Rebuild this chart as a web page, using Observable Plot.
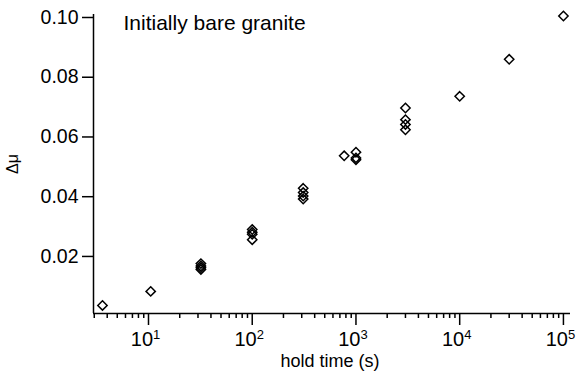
<!DOCTYPE html>
<html>
<head>
<meta charset="utf-8">
<script src="https://cdn.jsdelivr.net/npm/d3@7"></script>
<script src="https://cdn.jsdelivr.net/npm/@observablehq/plot@0.6"></script>
<style>
  html, body { margin: 0; padding: 0; background: #fff; }
  #chart svg { display: block; font-family: "Liberation Sans", Arial, Helvetica, sans-serif; }
</style>
</head>
<body>
<div id="chart"></div>
<script>
// Data: hold time (s) and Δμ
const holdTime = [3.6, 10.5,
  32, 32, 32, 32,
  100, 100, 100, 100,
  310, 310, 310, 310,
  770, 1000, 1000, 1000,
  3000, 3000, 3000, 3000,
  10000, 30000, 100000];
const deltaMu = [0.0036, 0.0083,
  0.0176, 0.0168, 0.0162, 0.0156,
  0.0290, 0.0281, 0.0274, 0.0256,
  0.0428, 0.0414, 0.0402, 0.0392,
  0.0537, 0.0549, 0.0530, 0.0524,
  0.0697, 0.0658, 0.0642, 0.0624,
  0.0736, 0.0860, 0.1005];

const yTicks = [0.02, 0.04, 0.06, 0.08, 0.10];
const xMajorTicks = [10, 100, 1000, 10000, 100000];
const xMajorExponents = ["1", "2", "3", "4", "5"];
const minorMultipliers = [2, 3, 4, 5, 6, 7, 8, 9];
const minorDecades = [1, 10, 100, 1000, 10000];
const titleText = "Initially bare granite";
const xLabel = "hold time (s)";
const yLabel = "Δμ";

const xDomain = [2.95, 117000];
const yDomain = [0.0009, 0.101];

const points = holdTime.map((t, i) => ({t, mu: deltaMu[i]}));
const xMinorTicks = minorDecades.flatMap(d => minorMultipliers.map(m => m * d))
  .filter(v => v >= xDomain[0] && v <= xDomain[1]);

const chart = Plot.plot({
  width: 581,
  height: 375,
  marginLeft: 93,
  marginRight: 11,
  marginTop: 14,
  marginBottom: 62,
  style: {fontFamily: "Liberation Sans, Arial, sans-serif", background: "#fff", color: "#000"},
  x: {type: "log", domain: xDomain},
  y: {domain: yDomain},
  marks: [
    Plot.axisY(yTicks, {tickSize: 11, tickPadding: 4, tickFormat: d => d.toFixed(2), fontSize: 19.5, strokeWidth: 1.5, label: null}),
    Plot.axisX(xMinorTicks, {tickSize: 5, tickFormat: () => "", strokeWidth: 1.5, label: null}),
    Plot.axisX(xMajorTicks, {tickSize: 12, tickPadding: 6, tickFormat: d => "10", fontSize: 20, strokeWidth: 1.5, label: null}),
    Plot.ruleX([xDomain[0]], {stroke: "#000", strokeWidth: 1.5}),
    Plot.ruleY([yDomain[0]], {stroke: "#000", strokeWidth: 1.5}),
    Plot.dot(points, {x: "t", y: "mu", symbol: "diamond2", r: 4.2, stroke: "#000", strokeWidth: 1.5, fill: "none"}),
    Plot.text([titleText], {frameAnchor: "top-left", dx: 30, dy: 1, fontSize: 21, textAnchor: "start", fill: "#000"})
  ]
});

// Superscript exponents for the log-axis labels
d3.select(chart).selectAll("g[aria-label='x-axis tick label'] text").each(function(d) {
  const el = d3.select(this);
  if (el.text() !== "10") return;
  el.attr("dx", "-0.15em");
  el.append("tspan").attr("dy", "-0.5em").attr("font-size", 13).text(xMajorExponents[d]);
});

const svg = d3.select(chart);
svg.append("text")
  .attr("x", 330).attr("y", 367)
  .attr("text-anchor", "middle")
  .attr("font-size", 18)
  .attr("fill", "#000")
  .text(xLabel);
svg.append("text")
  .attr("transform", "translate(18,164) rotate(-90)")
  .attr("text-anchor", "middle")
  .attr("font-size", 16)
  .attr("fill", "#000")
  .text(yLabel);

document.getElementById("chart").appendChild(chart);
</script>
</body>
</html>
